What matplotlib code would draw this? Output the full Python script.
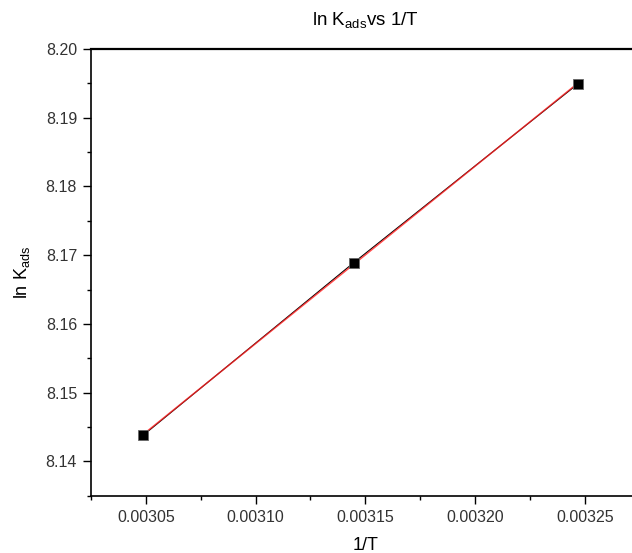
""" ln K_ads vs 1/T (adsorption thermodynamics). """

import numpy as np
import matplotlib
matplotlib.use('Agg')
import matplotlib.pyplot as plt
from matplotlib.ticker import MultipleLocator, FormatStrFormatter

plt.rcParams['font.family'] = ['Liberation Sans', 'DejaVu Sans']
plt.rcParams['mathtext.fontset'] = 'custom'
plt.rcParams['mathtext.rm'] = 'Liberation Sans'

# temperatures 328, 318, 308 K
inv_T = [0.0030488, 0.0031447, 0.0032468]
ln_K = [8.1438, 8.1689, 8.1949]

fig = plt.figure(figsize=(6.32, 5.53), dpi=100)
ax = fig.add_axes([0.144, 0.1036, 0.868, 0.8078])

# linear fit
slope, icpt = np.polyfit(inv_T, ln_K, 1)
xf = np.array([inv_T[0], inv_T[-1]])

ax.plot(inv_T, ln_K, '-', color='k', lw=0.8, zorder=2)
ax.plot(xf, slope * xf + icpt, '-', color='#ff2020', lw=1.1, alpha=0.8, zorder=3)
ax.plot(inv_T, ln_K, 's', color='k', ms=6.5, mec='#666666', mew=0.6, zorder=4)

ax.set_xlim(0.003025, 0.003275)
ax.set_ylim(8.135, 8.20)

ax.xaxis.set_major_locator(MultipleLocator(0.00005))
ax.xaxis.set_minor_locator(MultipleLocator(0.000025))
ax.xaxis.set_major_formatter(FormatStrFormatter('%.5f'))
ax.yaxis.set_major_locator(MultipleLocator(0.01))
ax.yaxis.set_minor_locator(MultipleLocator(0.005))
ax.yaxis.set_major_formatter(FormatStrFormatter('%.2f'))

ax.tick_params(which='major', direction='out', length=6, width=1.0,
               labelsize=11.5, colors='#333333', pad=4)
ax.tick_params(which='minor', direction='out', length=3, width=1.0)
ax.tick_params(axis='both', which='both', color='k')

for s in ['left', 'bottom', 'top']:
    ax.spines[s].set_linewidth(1.2)
ax.spines['top'].set_linewidth(1.6)
ax.spines['right'].set_visible(False)

ax.set_xlabel('1/T', fontsize=13, labelpad=9)
ax.set_ylabel(r'ln K$_{\mathrm{ads}}$', fontsize=13, labelpad=10)
ax.set_title(r'ln K$_{\mathrm{ads}}$vs 1/T', fontsize=13.5, pad=17)

fig.savefig('out.png', dpi=100)
